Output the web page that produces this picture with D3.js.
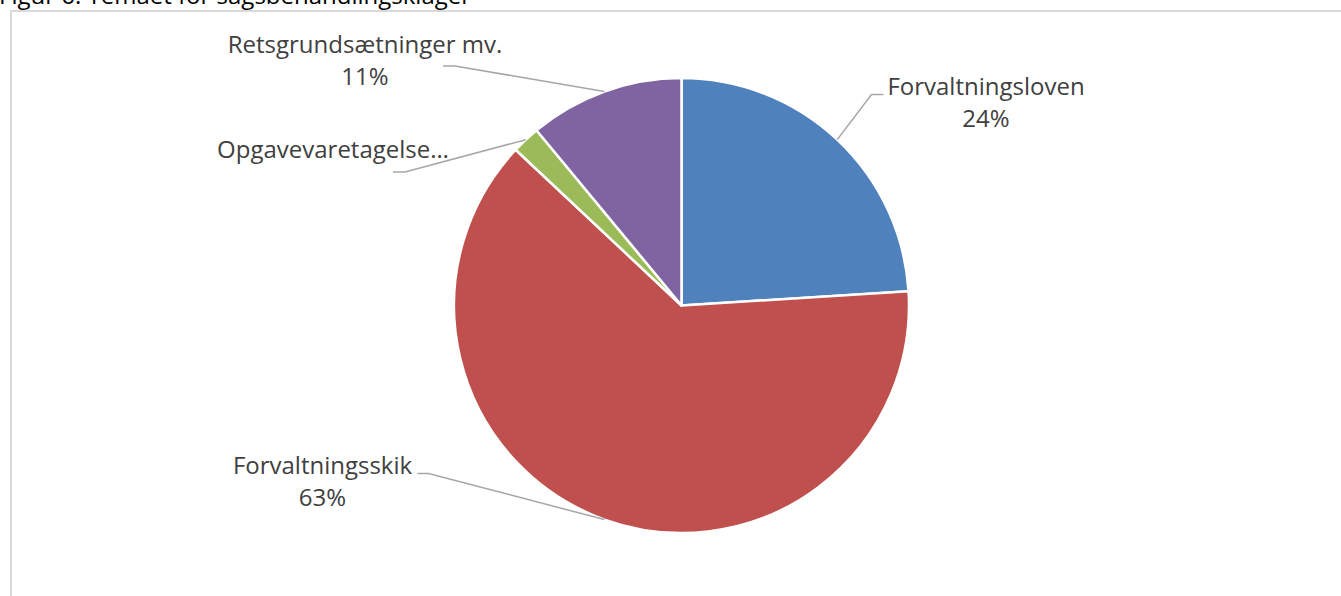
<!DOCTYPE html>
<html>
<head>
<meta charset="utf-8">
<script src="https://cdn.jsdelivr.net/npm/d3@7"></script>
<style>
  html, body { margin: 0; padding: 0; background: #fff; overflow: hidden; }
  svg { display: block; font-family: "Open Sans", sans-serif; }
</style>
</head>
<body>
<svg id="chart" width="1341" height="596"></svg>
<script>
// Tema for sagsbehandlingsklager (andel i procent)
const categories = ["Forvaltningsloven", "Forvaltningsskik", "Opgavevaretagelse…", "Retsgrundsætninger mv."];
const values = [24, 63, 2, 11];
const valueLabels = ["24%", "63%", "", "11%"];
const colors = ["#4f81bd", "#c0504d", "#9bbb59", "#8064a2"];

// Label placement relative to the pie centre:
// (tx, ty) = text anchor of first line, (lx, ly) = end of leader's horizontal stub,
// elbow = stub length (positive: stub extends to the right of lx)
const labelLayout = [
  { tx: 304.5, ty: -211, lx: 202, ly: -211, elbow: -12 },
  { tx: -359, ty: 168, lx: -264, ly: 168, elbow: 11 },
  { tx: -348.5, ty: -147.5, lx: -288.5, ly: -133.5, elbow: 12 },
  { tx: -316.5, ty: -252.5, lx: -238.5, ly: -239.5, elbow: 12 }
];

const svg = d3.select("#chart");
const W = 1341, H = 596;
const cx = 681.5, cy = 305.5, r = 227.5;
const fontSize = 24, lineH = 32;

// Title (partially above the visible area)
svg.append("text")
  .attr("x", -1).attr("y", 4)
  .attr("font-size", 24)
  .attr("fill", "#000")
  .text("Figur 6: Temaet for sagsbehandlingsklager");

// Chart frame
svg.append("rect")
  .attr("x", 11).attr("y", 11)
  .attr("width", W + 20).attr("height", H + 20)
  .attr("fill", "none")
  .attr("stroke", "#d9d9d9")
  .attr("stroke-width", 2);

const data = categories.map((c, i) => ({
  name: c, value: values[i], label: valueLabels[i], color: colors[i], layout: labelLayout[i]
}));

const pie = d3.pie().value(d => d.value).sort(null);
const arcs = pie(data);
const arc = d3.arc().innerRadius(0).outerRadius(r);

const g = svg.append("g").attr("transform", `translate(${cx},${cy})`);

g.selectAll("path.slice")
  .data(arcs)
  .join("path")
  .attr("class", "slice")
  .attr("d", arc)
  .attr("fill", d => d.data.color)
  .attr("stroke", "#fff")
  .attr("stroke-width", 2.5)
  .attr("stroke-linejoin", "round");

// Leader lines from the slice edge (mid-angle) to the label stub, then the labels
arcs.forEach(a => {
  const mid = (a.startAngle + a.endAngle) / 2;
  const ex = Math.sin(mid) * r, ey = -Math.cos(mid) * r;
  const L = a.data.layout;
  g.append("path")
    .attr("d", d3.line()([[ex, ey], [L.lx + L.elbow, L.ly], [L.lx, L.ly]]))
    .attr("fill", "none")
    .attr("stroke", "#a6a6a6")
    .attr("stroke-width", 1.5);

  const t = g.append("text")
    .attr("text-anchor", "middle")
    .attr("font-size", fontSize)
    .attr("fill", "#404040");
  t.append("tspan").attr("x", L.tx).attr("y", L.ty).text(a.data.name);
  if (a.data.label) {
    t.append("tspan").attr("x", L.tx).attr("y", L.ty + lineH).text(a.data.label);
  }
});
</script>
</body>
</html>
